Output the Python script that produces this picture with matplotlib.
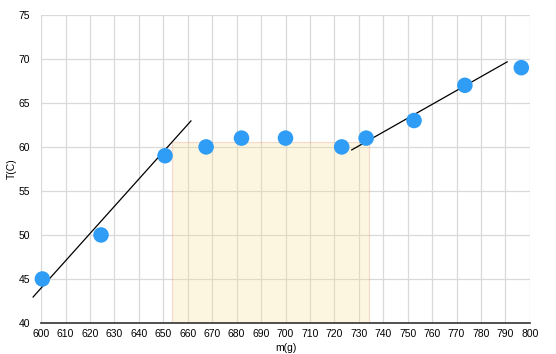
import matplotlib.pyplot as plt
from matplotlib.patches import Rectangle

plt.rcParams['font.family'] = ['Liberation Sans', 'DejaVu Sans']

# datos medidos
masa = [600.5, 624.5, 650.7, 667.5, 682, 700, 723, 733, 752.6, 773.4, 796.5]
temp = [45, 50, 59, 60, 61, 61, 60, 61, 63, 67, 69]

# rectas de ajuste (extremos)
recta1_x = [596.7, 661.3]
recta1_y = [42.95, 62.95]
recta2_x = [727.1, 790.7]
recta2_y = [59.66, 69.66]

# zona de meseta
meseta_x = [653.6, 734.3]
meseta_y = [40, 60.6]

fig = plt.figure(figsize=(5.56, 3.54), dpi=100)
ax = fig.add_axes([0.074, 0.0876, 0.879, 0.8704])

ax.add_patch(Rectangle((meseta_x[0], meseta_y[0]), meseta_x[1] - meseta_x[0],
                       meseta_y[1] - meseta_y[0], facecolor=(0.969, 0.859, 0.53, 0.25),
                       edgecolor=(0.95, 0.6, 0.55, 0.35), linewidth=0.8, zorder=1))

ax.plot(recta1_x, recta1_y, color='black', linewidth=0.9, zorder=3, clip_on=False)
ax.plot(recta2_x, recta2_y, color='black', linewidth=0.9, zorder=3)
ax.scatter(masa, temp, s=125, color='#2f9df5', zorder=4, clip_on=False,
           edgecolors='none')

ax.set_xlim(600, 800)
ax.set_ylim(40, 75)
ax.set_xticks(range(600, 801, 10))
ax.set_yticks(range(40, 76, 5))
ax.grid(True, color='#d9d9d9', linewidth=0.9, zorder=0)
ax.set_axisbelow(True)
for s in ['top', 'right', 'left']:
    ax.spines[s].set_visible(False)
ax.spines['bottom'].set_color('#333333')
ax.spines['bottom'].set_linewidth(1.2)
ax.tick_params(length=0, labelsize=7.5)
ax.tick_params(axis='x', pad=4)
ax.tick_params(axis='y', pad=8)
ax.set_xlabel('m(g)', fontsize=7.5, labelpad=3)
ax.set_ylabel('T(C)', fontsize=7.5, labelpad=1)

fig.savefig('out.png', dpi=100)
